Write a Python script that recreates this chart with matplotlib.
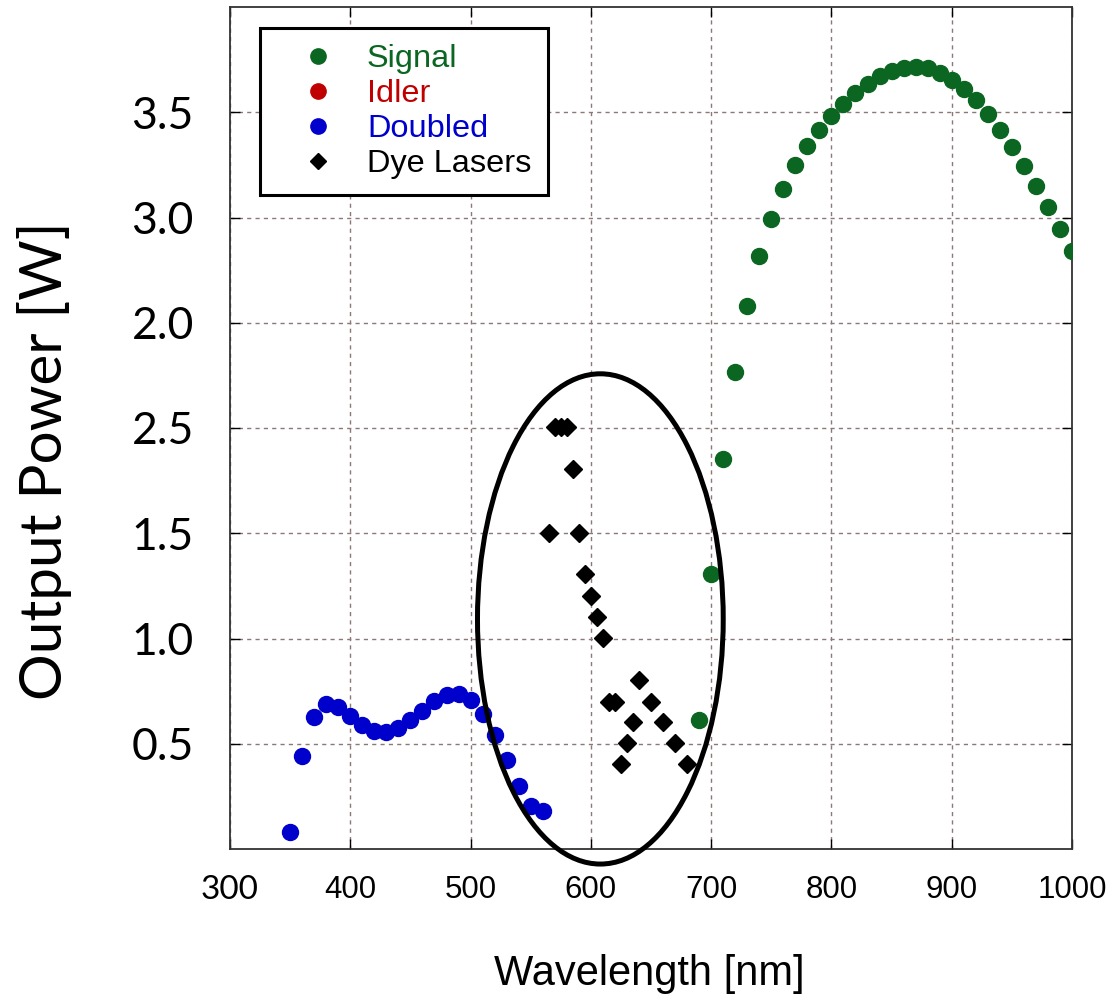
import numpy as np
import matplotlib
matplotlib.use('Agg')
import matplotlib.pyplot as plt
from matplotlib.lines import Line2D
from matplotlib.patches import Ellipse

# signal (green)
signal_nm = [690, 700, 710, 720, 730, 740, 750, 760, 770, 780, 790, 800, 810, 820, 830, 840,
             850, 860, 870, 880, 890, 900, 910, 920, 930, 940, 950, 960, 970, 980, 990, 1000]
signal_w = [0.614, 1.305, 1.852, 2.268, 2.578, 2.818, 2.995, 3.137, 3.251, 3.341, 3.418, 3.482,
            3.540, 3.592, 3.635, 3.670, 3.696, 3.710, 3.714, 3.708, 3.687, 3.654, 3.611, 3.556,
            3.492, 3.418, 3.333, 3.244, 3.148, 3.048, 2.944, 2.840]

# idler - in legend only
idler_nm = []
idler_w = []

# doubled (blue)
doubled_nm = [350, 360, 370, 380, 390, 400, 410, 420, 430, 440, 450, 460, 470, 480, 490, 500,
              510, 520, 530, 540, 550, 560]
doubled_w = [0.081, 0.444, 0.629, 0.689, 0.673, 0.630, 0.587, 0.560, 0.554, 0.573, 0.611, 0.657,
             0.702, 0.732, 0.737, 0.708, 0.643, 0.543, 0.424, 0.300, 0.205, 0.179]

# dye lasers (black diamonds)
dye_nm = [570, 575, 580, 585, 565, 590, 595, 600, 605, 610, 640, 615, 620, 650,
          635, 660, 630, 670, 625, 680]
dye_w = [2.003, 2.003, 2.003, 1.805, 1.503, 1.503, 1.305, 1.201, 1.103, 1.001, 0.803, 0.700,
         0.700, 0.700, 0.601, 0.601, 0.503, 0.503, 0.403, 0.403]

yticks = [0.5, 1.0, 1.5, 2.0, 2.5, 3.0, 3.5]
ytick_labels = ['0.5', '1.0', '1.5', '2.5', '2.0', '3.0', '3.5']
xticks = [300, 400, 500, 600, 700, 800, 900, 1000]

green = '#0a6620'
red = '#c00000'
blue = '#0000cc'

fig = plt.figure(figsize=(11.13, 9.94), dpi=100)
ax = fig.add_axes([230/1113, 1 - 849/994, (1072-230)/1113, (849-7)/994])

ax.plot(signal_nm, signal_w, 'o', color=green, markersize=11.5, zorder=3)
ax.plot(idler_nm, idler_w, 'o', color=red, markersize=11.5, zorder=3)
ax.plot(doubled_nm, doubled_w, 'o', color=blue, markersize=11.5, zorder=3)
ax.plot(dye_nm, dye_w, 'D', color='black', markersize=9.5, zorder=3)

# circle round the dye laser region
ell = Ellipse((607.9, 1.093), 204.3, 2.329, fill=False, edgecolor='black',
              linewidth=3.6, zorder=4, clip_on=False)
ax.add_patch(ell)

ax.set_xlim(300, 1000)
ax.set_ylim(0, 4.0)
ax.set_xticks(xticks)
ax.set_yticks(yticks)
ax.set_yticklabels(ytick_labels, fontsize=32, family='Lato')
ax.set_xticklabels([str(v) for v in xticks], fontsize=22.5, family='Liberation Sans')
ax.get_xticklabels()[0].set_family('Lato')
ax.get_xticklabels()[0].set_fontsize(24)

ax.tick_params(direction='in', length=7, width=1, top=True, right=True, colors='black')
ax.tick_params(axis='y', pad=26)
ax.tick_params(axis='x', pad=19)

ax.grid(True, linestyle=(0, (3, 3)), color='#8c7878', linewidth=1)
ax.set_axisbelow(True)
for sp in ax.spines.values():
    sp.set_color('#333333')
    sp.set_linewidth(1.3)

fig.text(649/1113, (994-985)/994, 'Wavelength [nm]', fontsize=30, family='Liberation Sans',
         ha='center', va='baseline')
fig.text(45/1113, 1 - 461/994, 'Output Power [W]', fontsize=42, family='Lato',
         rotation=90, ha='center', va='center')

handles = [
    Line2D([], [], marker='o', linestyle='none', color=green, markersize=11),
    Line2D([], [], marker='o', linestyle='none', color=red, markersize=11),
    Line2D([], [], marker='o', linestyle='none', color=blue, markersize=11),
    Line2D([], [], marker='D', linestyle='none', color='black', markersize=8.5),
]
leg = ax.legend(handles, ['Signal', 'Idler', 'Doubled', 'Dye Lasers'],
                loc='upper left', bbox_to_anchor=((260-230)/842, (849-28)/842),
                borderaxespad=0,
                prop={'family': 'Liberation Sans', 'size': 23.4},
                labelcolor=[green, red, blue, 'black'],
                handlelength=2.57, handletextpad=0.22, borderpad=0.5, labelspacing=0.15,
                fancybox=False, framealpha=1, edgecolor='black', numpoints=1)
leg.get_frame().set_linewidth(2.2)

plt.savefig('out.png', dpi=100)
